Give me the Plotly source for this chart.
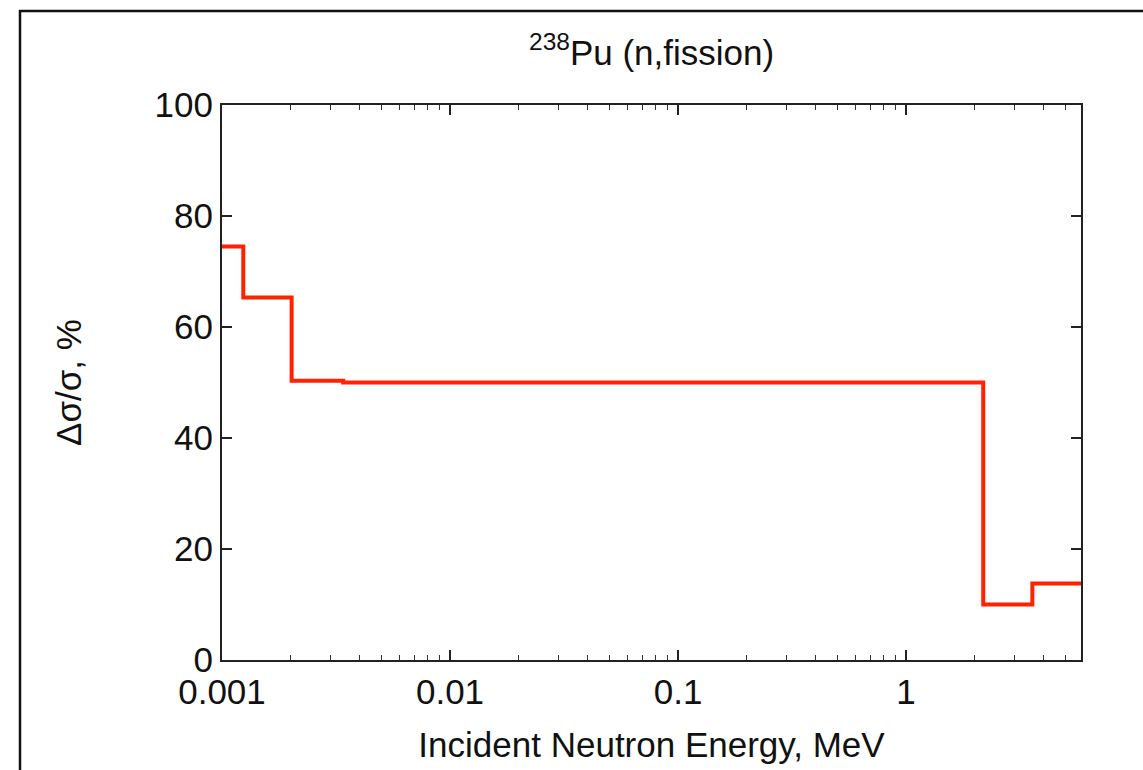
import plotly.graph_objects as go

# Step edges (MeV) and uncertainty values (%)
energy_edges = [0.001, 0.00124, 0.00202, 0.0034, 2.18, 3.58, 5.85]
uncertainty = [74.5, 65.3, 50.3, 50.0, 10.0, 13.8]

x_tickvals = [0.001, 0.01, 0.1, 1]
x_ticktext = ["0.001", "0.01", "0.1", "1"]
y_tickvals = [0, 20, 40, 60, 80, 100]

xs = energy_edges
ys = uncertainty + [uncertainty[-1]]

FONT = "Liberation Sans, Arial, Helvetica, sans-serif"

fig = go.Figure()
fig.add_trace(go.Scatter(
    x=xs, y=ys, mode="lines", line_shape="hv",
    line=dict(color="#ff2200", width=4), showlegend=False, hoverinfo="skip",
))

W, H = 1143, 770
L, R, T, B = 222, 62, 105, 110
pw, ph = W - L - R, H - T - B

fig.update_layout(
    width=W, height=H,
    margin=dict(l=L, r=R, t=T, b=B, pad=0),
    paper_bgcolor="white", plot_bgcolor="white",
    font=dict(family=FONT, size=35, color="#111111"),
    showlegend=False,
)

fig.update_xaxes(
    type="log", range=[-3, 0.7672],
    tickvals=x_tickvals, ticktext=x_ticktext,
    ticks="inside", ticklen=10, tickwidth=1.5, tickcolor="#222222",
    minor=dict(ticks="inside", ticklen=5, tickwidth=1.2, tickcolor="#333333",
               dtick="D1", showgrid=False),
    showline=True, linecolor="#222222", linewidth=2.2, mirror="allticks",
    showgrid=False, zeroline=False,
    tickfont=dict(size=35, family=FONT),
    title=dict(text="Incident Neutron Energy, MeV", font=dict(size=35, family=FONT), standoff=22),
)
fig.update_yaxes(
    range=[0, 100], tickvals=y_tickvals,
    ticks="inside", ticklen=10, tickwidth=1.5, tickcolor="#222222",
    showline=True, linecolor="#222222", linewidth=2.2, mirror="allticks",
    showgrid=False, zeroline=False,
    tickfont=dict(size=35, family=FONT),
    title=dict(text="Δσ/σ, %", font=dict(size=35, family=FONT), standoff=62),
)

# Title annotation
fig.add_annotation(
    text="<sup>238</sup>Pu (n,fission)", xref="paper", yref="paper",
    x=0.5, y=(660 - 50) / ph, xanchor="center", yanchor="middle",
    showarrow=False, font=dict(size=35, family=FONT, color="#111111"),
)

# Outer frame (extends past canvas bottom/right)
fig.add_shape(
    type="rect", xref="paper", yref="paper",
    x0=(20 - L) / pw, x1=(W + 40 - L) / pw,
    y0=(660 - (H + 40)) / ph, y1=(660 - 11) / ph,
    line=dict(color="#111111", width=2.5), fillcolor="rgba(0,0,0,0)", layer="below",
)

fig.write_html("out.html")
